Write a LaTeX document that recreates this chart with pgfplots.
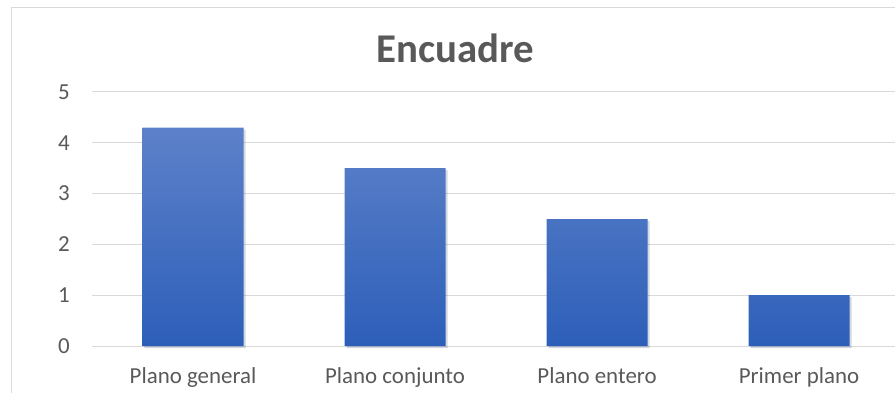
\documentclass[border=0pt]{standalone}
\usepackage{pgfplots}
\pgfplotsset{compat=1.18}
\usepackage{fontspec}
\setmainfont{Carlito}
\definecolor{gridc}{RGB}{217,217,217}
\definecolor{txt}{RGB}{89,89,89}
\definecolor{bartop}{RGB}{93,129,201}
\definecolor{barbot}{RGB}{45,95,185}
\begin{document}
\begin{tikzpicture}[x=1bp,y=1bp]
\useasboundingbox (0,0) rectangle (895,392);
\draw[gridc, line width=1.2bp] (11.5,-10) -- (11.5,384.5) -- (905,384.5);
\begin{axis}[
  at={(92bp,46bp)}, anchor=south west,
  scale only axis, width=803bp, height=254bp,
  xmin=-0.5, xmax=3.475, ymin=0, ymax=5,
  ybar, bar width=101bp,
  xtick={0,1,2,3},
  xticklabels={Plano general, Plano conjunto, Plano entero, Primer plano},
  ytick={0,1,2,3,4,5},
  ymajorgrids, grid style={gridc, line width=1bp},
  axis line style={draw=none},
  major tick length=0pt,
  tick style={draw=none},
  /pgf/number format/assume math mode=true,
  ticklabel style={font=\fontsize{23}{27}\selectfont, text=txt},
  xticklabel style={anchor=base, yshift=-37bp},
  yticklabel style={anchor=east, inner sep=0pt, xshift=-22bp},
  title={Encuadre},
  title style={at={(axis description cs:0.452,1)}, anchor=base, yshift=24bp,
    font=\fontsize{41}{48}\selectfont\bfseries, text=txt, inner sep=0pt},
  clip=false,
]
\addplot[draw=none, top color=bartop, bottom color=barbot,
  preaction={fill=black, fill opacity=0.10, transform canvas={xshift=2bp,yshift=-2bp}},
  bar shift=0pt] coordinates {(0,4.3) (1,3.5) (2,2.5) (3,1.0)};
\end{axis}
\end{tikzpicture}
\end{document}
